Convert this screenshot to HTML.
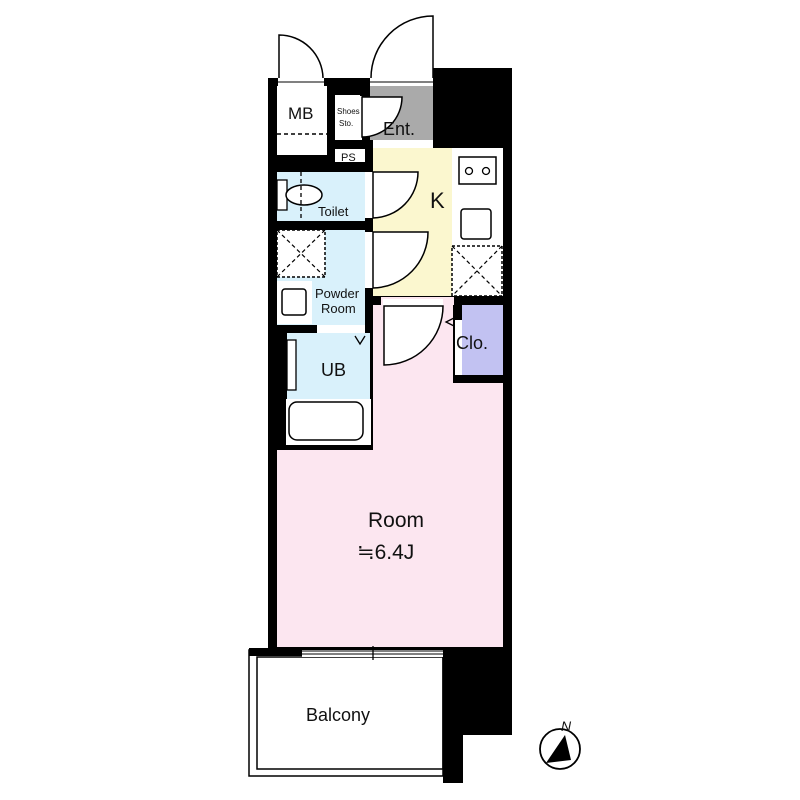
<!DOCTYPE html>
<html><head><meta charset="utf-8"><style>
html,body{margin:0;padding:0;background:#fff}
svg{display:block}
text{font-family:"Liberation Sans","Noto Sans CJK JP",sans-serif;fill:#111}
</style></head><body>
<svg width="800" height="800" viewBox="0 0 800 800" xmlns="http://www.w3.org/2000/svg">
<!-- black building mass -->
<rect x="268" y="78" width="244" height="572" fill="#000"/>
<rect x="433" y="68" width="79" height="20" fill="#000"/>
<rect x="443" y="646" width="69" height="89" fill="#000"/>
<rect x="443" y="646" width="20" height="137" fill="#000"/>
<!-- top door openings -->
<rect x="278" y="78" width="46" height="8" fill="#fff"/>
<rect x="370" y="78" width="63" height="8" fill="#fff"/>
<!-- MB -->
<rect x="277" y="86" width="50" height="69" fill="#fff"/>
<line x1="277" y1="134" x2="327" y2="134" stroke="#000" stroke-dasharray="4,3" stroke-width="1.5"/>
<!-- Ent -->
<rect x="370" y="86" width="63" height="54" fill="#aaa"/>
<rect x="373" y="140" width="60" height="8" fill="#fff"/>
<!-- shoes -->
<rect x="335" y="95" width="25" height="45" fill="#fff"/>
<rect x="360" y="96" width="2" height="44" fill="#fff"/>
<path d="M362 97 H402 A40 40 0 0 1 362 137 Z" fill="#fff" stroke="#000" stroke-width="1.5"/>
<!-- PS -->
<rect x="335" y="149" width="30" height="13" fill="#fff"/>
<!-- kitchen -->
<rect x="373" y="148" width="79" height="148" fill="#fbf7cf"/>
<rect x="452" y="148" width="51" height="148" fill="#fff"/>
<rect x="459" y="157" width="37" height="27" fill="#fff" stroke="#000" stroke-width="1.5"/>
<circle cx="469" cy="171" r="3.5" fill="none" stroke="#000" stroke-width="1.3"/>
<circle cx="486" cy="171" r="3.5" fill="none" stroke="#000" stroke-width="1.3"/>
<rect x="461" y="209" width="30" height="30" rx="3" fill="#fff" stroke="#000" stroke-width="1.5"/>
<rect x="452" y="246" width="50" height="50" fill="none" stroke="#000" stroke-dasharray="3,2" stroke-width="1.5"/>
<path d="M452 246 L502 296 M502 246 L452 296" stroke="#000" stroke-dasharray="4,3" stroke-width="1.2"/>
<!-- toilet -->
<rect x="277" y="172" width="88" height="49" fill="#d9f1fb"/>
<rect x="277" y="180" width="10" height="30" fill="#fff" stroke="#000" stroke-width="1.3"/>
<ellipse cx="304" cy="195" rx="18" ry="10" fill="#fff" stroke="#000" stroke-width="1.5"/>
<line x1="301" y1="172" x2="301" y2="221" stroke="#000" stroke-dasharray="4,3" stroke-width="1.3"/>
<!-- doors on left of kitchen -->
<rect x="365" y="172" width="8" height="46" fill="#fff"/>
<path d="M373 172 H418 A46 46 0 0 1 373 218 Z" fill="#fff" stroke="#000" stroke-width="1.5"/>
<rect x="365" y="232" width="8" height="56" fill="#fff"/>
<path d="M373 232 H428 A56 56 0 0 1 373 288 Z" fill="#fff" stroke="#000" stroke-width="1.5"/>
<!-- powder room -->
<rect x="277" y="230" width="88" height="95" fill="#d9f1fb"/>
<rect x="277" y="230" width="48" height="47" fill="#fff" stroke="#000" stroke-dasharray="3,2" stroke-width="1.5"/>
<path d="M277 230 L325 277 M325 230 L277 277" stroke="#000" stroke-dasharray="4,3" stroke-width="1.2"/>
<rect x="277" y="281" width="35" height="43" fill="#fff"/>
<rect x="282" y="289" width="24" height="26" rx="3" fill="#fff" stroke="#000" stroke-width="1.5"/>
<!-- UB -->
<rect x="317" y="325" width="48" height="8" fill="#fff"/>
<rect x="287" y="333" width="83" height="66" fill="#d9f1fb"/>
<rect x="287" y="340" width="9" height="50" fill="#fff" stroke="#000" stroke-width="1.3"/>
<path d="M355 336 L360 344 L365 336" fill="none" stroke="#000" stroke-width="1.3"/>
<rect x="286" y="399" width="85" height="46" fill="#fff"/>
<rect x="289" y="402" width="74" height="38" rx="8" fill="#fff" stroke="#000" stroke-width="1.5"/>
<!-- room -->
<path d="M381 297 H503 V647 H277 V450 H373 V305 H381 Z" fill="#fce6f0"/>
<rect x="383" y="299" width="60" height="8" fill="#fff"/>
<path d="M384 306 H443 A59 59 0 0 1 384 365 Z" fill="#fff" stroke="#000" stroke-width="1.5"/>
<!-- clo -->
<rect x="454" y="297" width="49" height="8" fill="#000"/>
<rect x="453" y="305" width="9" height="70" fill="#000"/>
<rect x="455" y="320" width="7" height="55" fill="#fff"/>
<rect x="462" y="305" width="41" height="70" fill="#c2c2f2"/>
<rect x="453" y="375" width="50" height="8" fill="#000"/>
<path d="M454 318 L446 322 L454 326" fill="none" stroke="#000" stroke-width="1.3"/>
<!-- outer door arcs -->
<path d="M279 78 V35 A44 44 0 0 1 323 78" fill="none" stroke="#000" stroke-width="1.5"/>
<line x1="278" y1="82" x2="324" y2="82" stroke="#000" stroke-width="1"/>
<path d="M371 78 A62 62 0 0 1 433 16 V78" fill="none" stroke="#000" stroke-width="1.5"/>
<line x1="370" y1="82" x2="433" y2="82" stroke="#000" stroke-width="1"/>
<!-- balcony -->
<rect x="249" y="650" width="194" height="126" fill="#fff" stroke="#000" stroke-width="1.5"/>
<rect x="257" y="657" width="186" height="112" fill="none" stroke="#000" stroke-width="1.5"/>
<rect x="249" y="648" width="53" height="8" fill="#000"/>
<rect x="302" y="650" width="141" height="7" fill="#fff"/>
<line x1="302" y1="651" x2="443" y2="651" stroke="#000" stroke-width="1"/>
<line x1="302" y1="654" x2="443" y2="654" stroke="#000" stroke-width="1"/>
<line x1="373" y1="646" x2="373" y2="660" stroke="#000" stroke-width="1.3"/>
<!-- labels -->
<text x="288" y="119" font-size="17">MB</text>
<text x="337" y="114" font-size="8">Shoes</text>
<text x="339" y="126" font-size="8">Sto.</text>
<text x="383" y="135" font-size="18">Ent.</text>
<text x="341" y="161" font-size="11">PS</text>
<text x="430" y="208" font-size="22">K</text>
<text x="318" y="216" font-size="13">Toilet</text>
<text x="315" y="298" font-size="13">Powder</text>
<text x="321" y="313" font-size="13">Room</text>
<text x="321" y="376" font-size="18">UB</text>
<text x="456" y="349" font-size="18">Clo.</text>
<text x="368" y="527" font-size="21">Room</text>
<text x="357" y="559" font-size="21">≒6.4J</text>
<text x="306" y="721" font-size="18">Balcony</text>
<!-- compass -->
<circle cx="560" cy="749" r="20" fill="#fff" stroke="#000" stroke-width="1.8"/>
<path d="M546 763 L565 735 L571 760 Z" fill="#000"/>
<text x="561" y="731" font-size="14" font-style="italic">N</text>
</svg>
</body></html>
